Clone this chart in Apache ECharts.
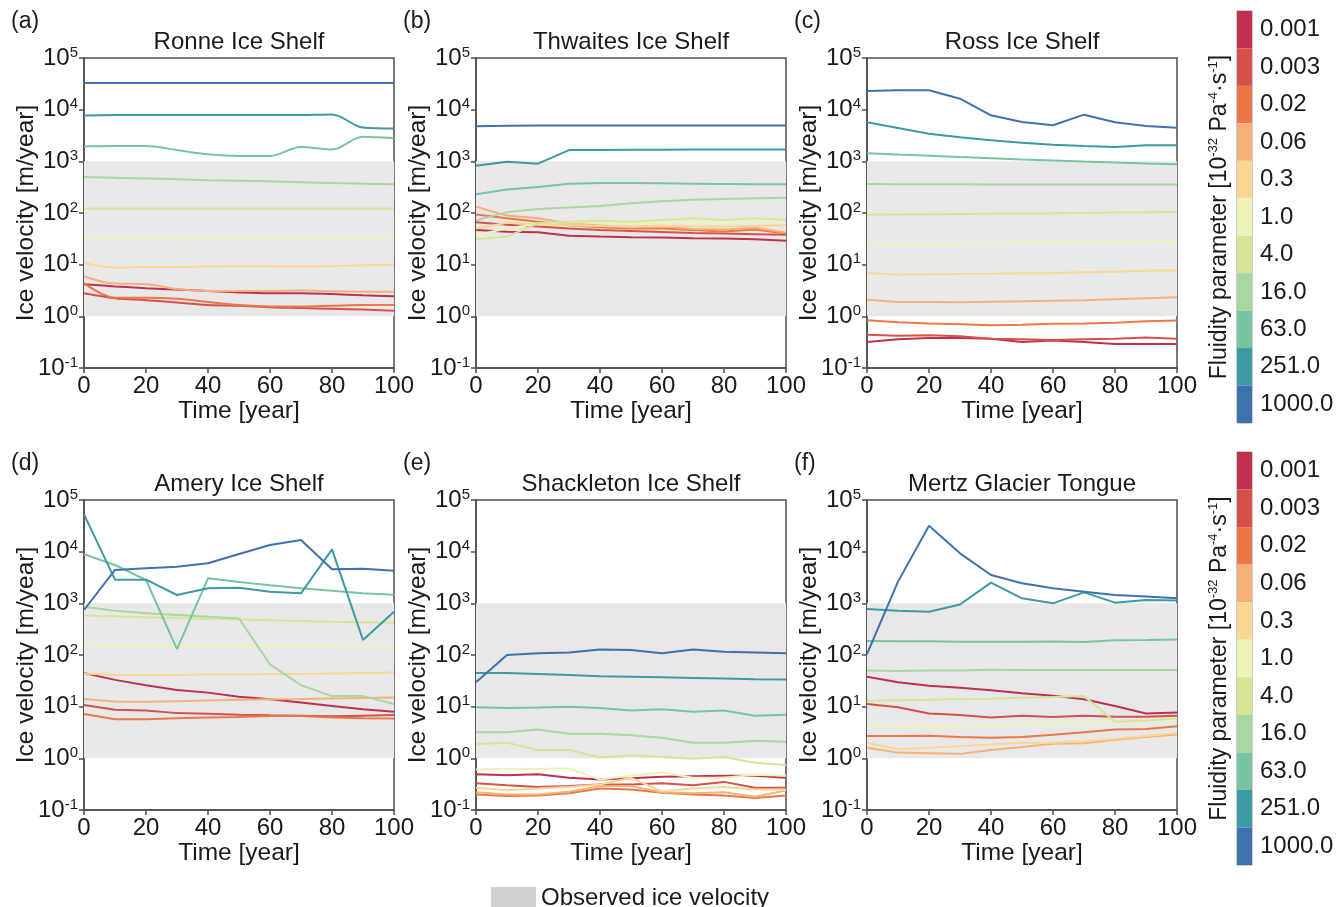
<!DOCTYPE html>
<html>
<head>
<meta charset="utf-8">
<script src="https://cdn.jsdelivr.net/npm/echarts@6/dist/echarts.min.js"></script>
<style>
    html, body { margin: 0; padding: 0; background: #fff; }
    #app { width: 1337px; height: 907px; }
</style>
</head>
<body>
<div id="app"></div>
<script>
// time axis (years)
const years = [0, 10, 20, 30, 40, 50, 60, 70, 80, 90, 100];
// fluidity parameters, top of the colour bar first
const fluidity = ['0.001', '0.003', '0.02', '0.06', '0.3', '1.0', '4.0', '16.0', '63.0', '251.0', '1000.0'];
const colors = ['#c0304f', '#d4524a', '#ec7747', '#f5b077', '#f9d792', '#eef2b8', '#d5e594', '#a9d6a1', '#79c4a0', '#3b9aa3', '#3e71ad'];
const letters = ['(a)', '(b)', '(c)', '(d)', '(e)', '(f)'];
const names = ['Ronne Ice Shelf', 'Thwaites Ice Shelf', 'Ross Ice Shelf', 'Amery Ice Shelf', 'Shackleton Ice Shelf', 'Mertz Glacier Tongue'];
// observed range [m/year]
const observed = [1, 1000];

// ice velocity per fluidity parameter (same order as fluidity)
const ronne = [
    [4.2, 3.8, 3.5, 3.3, 3.1, 2.9, 2.8, 2.8, 2.7, 2.55, 2.45],
    [2.8, 2.25, 2.05, 1.85, 1.65, 1.6, 1.5, 1.45, 1.4, 1.35, 1.28],
    [4.4, 2.3, 2.3, 2.2, 1.9, 1.65, 1.55, 1.55, 1.6, 1.65, 1.65],
    [5.9, 4.3, 4.2, 3.4, 3.1, 3.1, 3.1, 3.15, 3.05, 3.0, 3.0],
    [10.8, 8.8, 9.0, 9.0, 9.2, 9.3, 9.3, 9.2, 9.4, 9.7, 10],
    [32, 32, 32, 33, 33, 33, 33, 34, 34, 34, 35],
    [122, 122, 122, 122, 122, 122, 122, 122, 122, 122, 122],
    [500, 480, 465, 450, 430, 420, 410, 395, 380, 370, 360],
    [1950, 1980, 1980, 1650, 1370, 1270, 1270, 1900, 1700, 3000, 2800],
    [7700, 7900, 7900, 7900, 7900, 7900, 7900, 7900, 8100, 4500, 4300],
    [33000, 33000, 33000, 33000, 33000, 33000, 33000, 33000, 33000, 33000, 33000]
];
const thwaites = [
    [47, 43.6, 42.5, 36.4, 35, 34, 33.5, 32.5, 32, 31, 29],
    [66, 59, 55, 50, 47, 45, 43, 41, 40, 39, 38],
    [94, 79, 68, 58, 53, 50, 50, 47, 44, 48, 40],
    [132, 89, 79, 63, 57, 53, 55, 49, 48, 52, 42],
    [50, 65, 60, 58, 56, 55, 57, 55, 55, 56, 58],
    [37.5, 50, 62, 66, 66, 64, 66, 67, 66, 68, 70],
    [31, 35, 63, 68, 70, 68, 73, 79, 73, 79, 73],
    [72, 104, 120, 128, 137, 154, 168, 180, 187, 192, 197],
    [230, 285, 320, 370, 380, 380, 375, 370, 365, 360, 360],
    [825, 980, 900, 1650, 1650, 1680, 1680, 1690, 1700, 1700, 1700],
    [4750, 4900, 4950, 4950, 4950, 4950, 4950, 4950, 4950, 4950, 4950]
];
const ross = [
    [0.32, 0.36, 0.38, 0.38, 0.37, 0.32, 0.34, 0.32, 0.29, 0.29, 0.29],
    [0.44, 0.42, 0.43, 0.41, 0.37, 0.36, 0.35, 0.36, 0.37, 0.39, 0.37],
    [0.84, 0.77, 0.73, 0.70, 0.67, 0.69, 0.72, 0.73, 0.75, 0.8, 0.83],
    [2.1, 1.9, 1.9, 1.87, 1.92, 1.95, 2.0, 2.05, 2.15, 2.25, 2.35],
    [6.9, 6.4, 6.5, 6.6, 6.7, 6.8, 6.9, 7.1, 7.3, 7.6, 7.7],
    [24, 24.5, 25, 25.5, 26, 26.5, 27, 27.5, 28, 28.5, 29],
    [93, 94, 95, 96, 97, 98, 99, 100, 102, 103, 105],
    [365, 362, 360, 360, 358, 358, 357, 356, 356, 355, 355],
    [1430, 1350, 1280, 1210, 1150, 1090, 1040, 990, 950, 910, 880],
    [5700, 4420, 3430, 2920, 2550, 2300, 2100, 1990, 1900, 2040, 2040],
    [23000, 23700, 23700, 16300, 7770, 5770, 4980, 8000, 5700, 4830, 4490]
];
const amery = [
    [45, 33, 26, 21, 18.7, 15.6, 13.9, 12.1, 10.3, 8.9, 8.0],
    [10.8, 8.7, 8.4, 7.5, 7.3, 7.0, 6.8, 6.7, 6.5, 6.7, 6.9],
    [7.2, 5.7, 5.7, 6.0, 6.2, 6.3, 6.6, 6.6, 6.2, 6.0, 5.9],
    [14, 12.6, 12.4, 12.8, 13.2, 13.6, 13.9, 14.1, 14.4, 14.7, 15],
    [44, 41, 41, 41, 42, 42, 43, 43, 44, 45, 46],
    [160, 155, 152, 150, 150, 150, 148, 148, 147, 146, 145],
    [580, 560, 540, 520, 500, 485, 470, 455, 440, 430, 420],
    [860, 720, 640, 595, 550, 510, 66, 26, 16, 16, 11.3],
    [8900, 5520, 2830, 130, 3050, 2590, 2240, 1950, 1760, 1560, 1470],
    [52800, 2870, 2870, 1450, 1950, 2000, 1680, 1560, 11100, 195, 690],
    [743, 4420, 4760, 5100, 5950, 9000, 13500, 16800, 4550, 4650, 4290]
];
const shackleton = [
    [0.49, 0.47, 0.49, 0.42, 0.39, 0.41, 0.44, 0.45, 0.46, 0.46, 0.42],
    [0.33, 0.30, 0.28, 0.29, 0.31, 0.31, 0.33, 0.30, 0.35, 0.27, 0.27],
    [0.2, 0.186, 0.19, 0.21, 0.26, 0.25, 0.215, 0.2, 0.19, 0.17, 0.19],
    [0.22, 0.2, 0.2, 0.225, 0.29, 0.29, 0.22, 0.21, 0.22, 0.18, 0.24],
    [0.27, 0.24, 0.26, 0.28, 0.31, 0.42, 0.23, 0.26, 0.28, 0.25, 0.25],
    [0.61, 0.63, 0.62, 0.64, 0.39, 0.46, 0.53, 0.42, 0.42, 0.48, 0.46],
    [1.9, 2.0, 1.45, 1.45, 1.04, 1.15, 1.06, 0.98, 1.06, 0.82, 0.74],
    [3.2, 3.2, 3.6, 3.0, 3.0, 2.8, 2.5, 2.0, 2.0, 2.2, 2.1],
    [9.7, 9.4, 9.6, 10, 9.4, 8.4, 8.9, 8.0, 8.4, 6.7, 7.0],
    [45, 45, 43, 41, 39, 38, 37, 36, 35, 34, 33.5],
    [29.6, 100, 108, 112, 128, 125, 108, 128, 115, 112, 108]
];
const mertz = [
    [38, 29.6, 25.5, 23.3, 20.8, 18.2, 16.2, 13.9, 10.3, 7.4, 7.7],
    [11.3, 9.7, 7.4, 6.9, 6.2, 6.7, 6.3, 6.7, 6.4, 6.4, 6.7],
    [2.7, 2.7, 2.75, 2.6, 2.5, 2.6, 2.85, 3.2, 3.6, 3.7, 4.2],
    [1.6, 1.29, 1.26, 1.22, 1.45, 1.66, 1.92, 1.95, 2.3, 2.6, 2.9],
    [2.0, 1.5, 1.6, 1.72, 1.85, 2.0, 2.0, 2.15, 2.4, 2.7, 3.1],
    [4.6, 3.96, 4.1, 4.0, 4.3, 4.6, 4.8, 5.0, 5.3, 5.4, 5.5],
    [13, 13.3, 13.6, 14, 14.3, 14.8, 15.3, 16, 5.1, 5.4, 5.9],
    [50, 49, 50, 50, 52, 51, 51, 51, 51, 51, 51],
    [187, 185, 185, 180, 180, 180, 182, 178, 192, 195, 200],
    [780, 720, 690, 950, 2510, 1250, 1000, 1630, 1030, 1160, 1140],
    [104, 2630, 31800, 9280, 3530, 2440, 1950, 1680, 1450, 1350, 1250]
];
const panels = [ronne, thwaites, ross, amery, shackleton, mertz];

const font = '"Liberation Sans", Arial, sans-serif';
const ink = '#1a1a1a';
const axisColor = '#4d4d4d';
const lefts = [84, 476, 867];
const tops = [58, 500];
const size = 310;

let grid = [], xAxis = [], yAxis = [], series = [], title = [];

// 六个子图
panels.forEach(function(panel, i) {
    let left = lefts[i % 3], top = tops[Math.floor(i / 3)];
    grid.push({
        left: left, top: top, width: size, height: size,
        show: true, borderColor: axisColor, borderWidth: 1.5, backgroundColor: 'transparent'
    });
    title.push({
        text: names[i], left: left + size / 2, top: top - 28, textAlign: 'center', padding: 0,
        textStyle: { fontFamily: font, fontSize: 24, fontWeight: 'normal', color: ink }
    });
    title.push({
        text: letters[i], left: left - 73, top: top - 48, padding: 0,
        textStyle: { fontFamily: font, fontSize: 23, fontWeight: 'normal', color: ink }
    });
    xAxis.push({
        type: 'value', gridIndex: i, min: 0, max: 100, interval: 20,
        name: 'Time [year]', nameLocation: 'middle', nameGap: 31, nameMoveOverlap: false,
        nameTextStyle: { fontFamily: font, fontSize: 24.5, color: ink },
        axisLine: { show: true, onZero: false, lineStyle: { color: axisColor, width: 1.5 } },
        axisTick: { show: true, length: 5, lineStyle: { color: axisColor, width: 1.5 } },
        axisLabel: { margin: 6, fontFamily: font, fontSize: 24, color: ink },
        splitLine: { show: false }
    });
    yAxis.push({
        type: 'log', gridIndex: i, logBase: 10, min: 0.1, max: 100000,
        name: 'Ice velocity [m/year]', nameLocation: 'middle', nameGap: 45, nameMoveOverlap: false,
        nameTextStyle: { fontFamily: font, fontSize: 24.5, color: ink },
        axisLine: { show: true, onZero: false, lineStyle: { color: axisColor, width: 1.5 } },
        axisTick: { show: true, length: 5, lineStyle: { color: axisColor, width: 1.5 } },
        axisLabel: {
            margin: 6,
            formatter: function(v) {
                return '{b|10}{s|' + Math.round(Math.log10(v)) + '}';
            },
            rich: {
                b: { fontFamily: font, fontSize: 24, color: ink, lineHeight: 26 },
                s: { fontFamily: font, fontSize: 15, color: ink, verticalAlign: 'top', lineHeight: 15 }
            }
        },
        splitLine: { show: false }
    });
    // 观测范围背景
    series.push({
        type: 'line', name: 'Observed ice velocity', xAxisIndex: i, yAxisIndex: i,
        data: [], z: 1, silent: true, color: '#d0d0d0',
        markArea: {
            silent: true, itemStyle: { color: '#e8e8e8' },
            data: [[{ yAxis: observed[0] }, { yAxis: observed[1] }]]
        }
    });
    panel.forEach(function(vals, k) {
        series.push({
            type: 'line', name: fluidity[k], xAxisIndex: i, yAxisIndex: i,
            data: years.map(function(t, j) { return [t, vals[j]]; }),
            showSymbol: false, smooth: i === 0 ? 0.35 : false, z: 3,
            lineStyle: { width: 2, color: colors[k] }, itemStyle: { color: colors[k] }
        });
    });
});

// 色标
[{ top: 11, height: 412 }, { top: 452, height: 413 }].forEach(function(g, n) {
    let gi = 6 + n;
    grid.push({ left: 1237, width: 15, top: g.top, height: g.height, show: true, borderColor: '#9a9a9a', borderWidth: 1 });
    xAxis.push({ type: 'value', gridIndex: gi, min: 0, max: 1, show: false });
    yAxis.push({
        type: 'category', gridIndex: gi, data: fluidity, inverse: true, position: 'right',
        axisLine: { show: false },
        axisTick: { show: true, alignWithLabel: true, length: 6, lineStyle: { color: '#9a9a9a' } },
        axisLabel: { margin: 8, fontFamily: font, fontSize: 24, color: ink }
    });
    yAxis.push({
        type: 'category', gridIndex: gi, data: fluidity, inverse: true, position: 'left',
        axisLine: { show: false }, axisTick: { show: false }, axisLabel: { show: false },
        name: '{t|Fluidity parameter [10}{s|-32}{t| Pa}{s|-4}{t|·s}{s|-1}{t|]}',
        nameLocation: 'middle', nameGap: 5, nameMoveOverlap: false,
        nameTextStyle: {
            rich: {
                t: { fontFamily: font, fontSize: 23, color: ink, lineHeight: 25 },
                s: { fontFamily: font, fontSize: 13, color: ink, verticalAlign: 'top', lineHeight: 13 }
            }
        }
    });
    series.push({
        type: 'bar', xAxisIndex: gi, yAxisIndex: 6 + n * 2, silent: true,
        barWidth: '100%', barCategoryGap: 0,
        data: fluidity.map(function(f, k) { return { value: 1, itemStyle: { color: colors[k] } }; })
    });
});

let myChart = echarts.init(document.getElementById('app'));
myChart.setOption({
    animation: false,
    title: title,
    legend: {
        data: [{ name: 'Observed ice velocity', icon: 'rect', itemStyle: { color: '#d0d0d0' } }],
        left: 486, top: 881, itemWidth: 45, itemHeight: 22, itemGap: 0, selectedMode: false,
        textStyle: { fontFamily: font, fontSize: 24, color: ink }
    },
    grid: grid,
    xAxis: xAxis,
    yAxis: yAxis,
    series: series
});
</script>
</body>
</html>
